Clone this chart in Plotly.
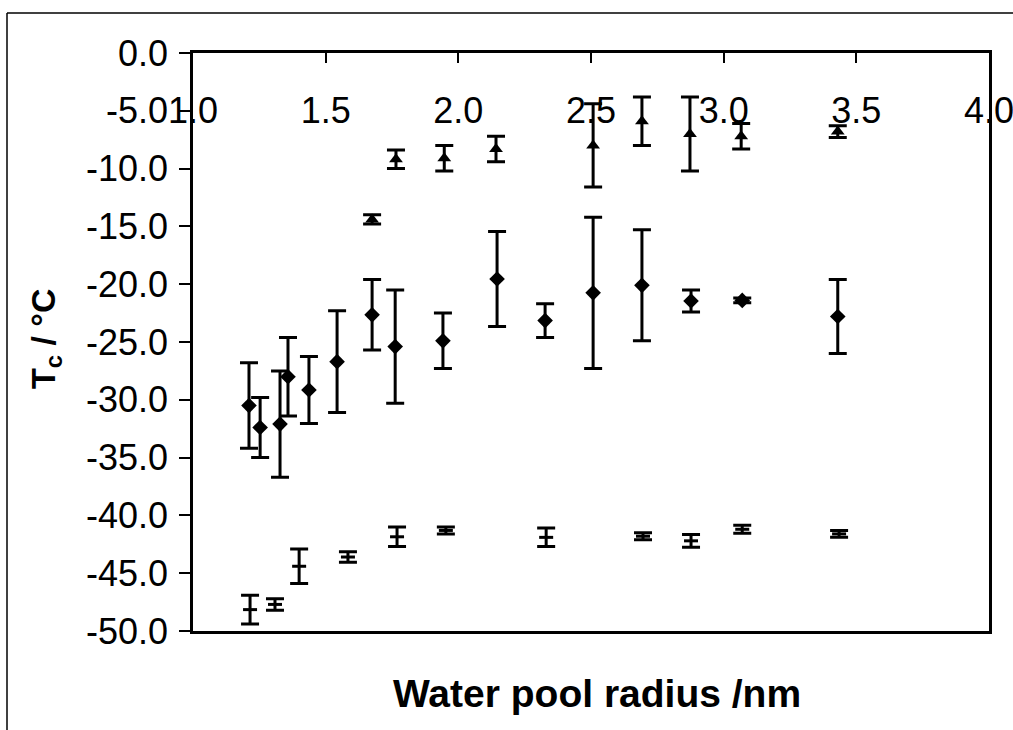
import plotly.graph_objects as go

# ---- data ----
x_tri = [1.675, 1.765, 1.947, 2.142, 2.508, 2.692, 2.873, 3.066, 3.43]
y_tri = [-14.4, -9.2, -9.1, -8.3, -8.0, -5.9, -7.0, -7.2, -6.8]
e_tri = [0.4, 0.8, 1.1, 1.1, 3.6, 2.1, 3.2, 1.1, 0.5]

x_dia = [1.211, 1.253, 1.328, 1.358, 1.437, 1.543, 1.675, 1.762, 1.942, 2.146,
         2.327, 2.508, 2.692, 2.877, 3.07, 3.43]
y_dia = [-30.5, -32.4, -32.1, -28.0, -29.15, -26.7, -22.65, -25.4, -24.9, -19.55,
         -23.15, -20.75, -20.1, -21.45, -21.4, -22.8]
e_dia = [3.7, 2.6, 4.6, 3.4, 2.9, 4.4, 3.05, 4.9, 2.4, 4.1,
         1.45, 6.55, 4.8, 0.95, 0.2, 3.2]

x_low = [1.215, 1.309, 1.40, 1.584, 1.769, 1.953, 2.331, 2.696, 2.877, 3.07, 3.435]
y_low = [-48.15, -47.7, -44.4, -43.6, -41.85, -41.3, -41.9, -41.8, -42.2, -41.2, -41.6]
e_low = [1.25, 0.5, 1.5, 0.45, 0.85, 0.3, 0.8, 0.3, 0.55, 0.35, 0.3]

x_ticks = [1.0, 1.5, 2.0, 2.5, 3.0, 3.5, 4.0]
y_ticks = [0, -5, -10, -15, -20, -25, -30, -35, -40, -45, -50]

FONT = "Liberation Sans, Arial, sans-serif"
W, H = 1013, 730
ML, MR, MT, MB = 193, 24, 53, 99
PW, PH = W - ML - MR, H - MT - MB


def px(x):
    return (x - ML) / PW


def py(y):
    return (H - MB - y) / PH


def err(e):
    return dict(type="data", array=e, visible=True, color="black",
                thickness=3, width=9)


fig = go.Figure()
fig.add_trace(go.Scatter(x=x_tri, y=y_tri, mode="markers", error_y=err(e_tri),
                         marker=dict(symbol="triangle-up", size=12, color="black")))
fig.add_trace(go.Scatter(x=x_dia, y=y_dia, mode="markers", error_y=err(e_dia),
                         marker=dict(symbol="diamond", size=12, color="black")))
fig.add_trace(go.Scatter(x=x_low, y=y_low, mode="markers", error_y=err(e_low),
                         marker=dict(symbol="line-ew-open", size=10, color="black",
                                     line=dict(width=3, color="black"))))
# carrier for the second x axis that holds the tick labels (no marks drawn)
fig.add_trace(go.Scatter(x=x_ticks, y=[None] * len(x_ticks), xaxis="x2",
                         mode="markers", hoverinfo="skip"))

TICKFONT = dict(size=36, family=FONT, color="black")

fig.update_layout(
    width=W, height=H,
    margin=dict(l=ML, r=MR, t=MT, b=MB, autoexpand=False),
    paper_bgcolor="white", plot_bgcolor="white",
    showlegend=False,
    font=dict(family=FONT, color="black", size=33),
    xaxis=dict(range=[1.0, 4.0], side="top", tickvals=x_ticks,
               showticklabels=False, automargin=False,
               ticks="inside", ticklen=10, tickwidth=2, tickcolor="black",
               showline=True, linewidth=2.5, linecolor="black", mirror=True,
               showgrid=False, zeroline=False),
    xaxis2=dict(range=[1.0, 4.0], overlaying="x", anchor="free",
                position=py(86), side="bottom", tickvals=x_ticks,
                ticktext=[f"{v:.1f}" for v in x_ticks], automargin=False,
                ticks="", showline=False, showgrid=False, zeroline=False,
                ticklabeloverflow="allow",
                tickfont=TICKFONT),
    yaxis=dict(range=[-50, 0], tickvals=y_ticks,
               ticktext=[f"{v:.1f}" for v in y_ticks], automargin=False,
               ticks="outside", ticklen=11, tickwidth=2, tickcolor="black",
               ticklabelstandoff=4,
               showline=True, linewidth=2.5, linecolor="black", mirror=True,
               showgrid=False, zeroline=False,
               tickfont=TICKFONT),
    annotations=[
        dict(text="<b>Water pool radius /nm</b>", xref="paper", yref="paper",
             x=px(597), y=py(693), xanchor="center", yanchor="middle",
             showarrow=False, font=dict(size=39, family=FONT, color="black")),
        dict(text="<b>T<sub>c</sub> / °C</b>", xref="paper", yref="paper",
             x=px(45), y=py(339), xanchor="center", yanchor="middle",
             textangle=-90, showarrow=False,
             font=dict(size=34, family=FONT, color="black")),
    ],
    shapes=[
        dict(type="line", xref="paper", yref="paper",
             x0=px(7), x1=px(7), y0=py(13), y1=py(735),
             line=dict(color="black", width=1.5)),
        dict(type="line", xref="paper", yref="paper",
             x0=px(7), x1=px(1015), y0=py(13), y1=py(13),
             line=dict(color="black", width=1.5)),
    ],
)

fig.write_html("out.html")
